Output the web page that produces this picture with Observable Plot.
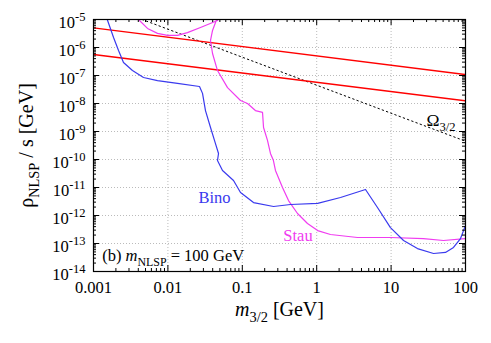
<!DOCTYPE html>
<html><head><meta charset="utf-8">
<script src="https://cdn.jsdelivr.net/npm/d3@7"></script>
<script src="https://cdn.jsdelivr.net/npm/@observablehq/plot@0.6"></script>
<style>
html,body{margin:0;padding:0;background:#fff;}
#chart svg, #chart svg text, #chart svg tspan { font-family: "Liberation Serif", "DejaVu Serif", serif; }
</style>
</head><body><div id="chart"></div>
<script>
// ---- tick values & labels ----
const xTicks = [0.001, 0.01, 0.1, 1, 10, 100];
const xTickLabels = ["0.001", "0.01", "0.1", "1", "10", "100"];
const yTicks = [1e-14, 1e-13, 1e-12, 1e-11, 1e-10, 1e-9, 1e-8, 1e-7, 1e-6, 1e-5];
const yTickLabels = ["10^{-14}", "10^{-13}", "10^{-12}", "10^{-11}", "10^{-10}", "10^{-9}", "10^{-8}", "10^{-7}", "10^{-6}", "10^{-5}"];

// ---- series ----
const binoX = [0.00148, 0.00153, 0.00186, 0.00217, 0.00253, 0.00334, 0.0047, 0.00724, 0.01345, 0.0266, 0.0292, 0.032, 0.0374, 0.0436, 0.0479, 0.0464, 0.0542, 0.0762, 0.0946, 0.1415, 0.263, 0.445, 1.03, 2.09, 4.53, 6.56, 9.8, 14.7, 22.6, 37.2, 53.8, 69, 85.7, 100];
const binoY = [1.3e-5, 1e-5, 2.28e-6, 7.8e-7, 2.9e-7, 1.5e-7, 8.5e-8, 6.6e-8, 5.2e-8, 4.05e-8, 2.3e-8, 5.6e-9, 1.39e-9, 3.7e-10, 1.64e-10, 9.2e-11, 4.05e-11, 1.78e-11, 6.6e-12, 2.9e-12, 2.1e-12, 2.47e-12, 2.7e-12, 4.4e-12, 8.5e-12, 1.93e-12, 3.7e-13, 1.28e-13, 6.6e-14, 4.4e-14, 4.8e-14, 7.2e-14, 1.5e-13, 4.4e-13];

const stauX = [0.0039, 0.00415, 0.00532, 0.00725, 0.00988, 0.01346, 0.0183, 0.0274, 0.0465, 0.048, 0.0455, 0.0398, 0.0374, 0.0398, 0.0464, 0.0633, 0.0946, 0.1175, 0.150, 0.187, 0.193, 0.218, 0.239, 0.262, 0.279, 0.347, 0.418, 0.552, 0.752, 1.03, 1.53, 3.53, 9.8, 27.2, 50.6, 100];
const stauY = [1.2e-5, 9.2e-6, 4.8e-6, 3.2e-6, 2.7e-6, 2.7e-6, 3.4e-6, 5.2e-6, 9.2e-6, 1.3e-5, 1.05e-5, 4.05e-6, 1.78e-6, 6.1e-7, 1.5e-7, 3.7e-8, 1.28e-8, 1e-8, 5.6e-9, 4.8e-9, 1.39e-9, 4.8e-10, 1.64e-10, 9.2e-11, 4.05e-11, 1e-11, 3.4e-12, 1.18e-12, 5.2e-13, 2.9e-13, 2.1e-13, 1.64e-13, 1.64e-13, 1.5e-13, 1.28e-13, 1.5e-13];

const redUpperX = [0.001, 100];
const redUpperY = [5e-6, 1.08e-7];
const redLowerX = [0.001, 100];
const redLowerY = [5.6e-7, 1.25e-8];
const omegaX = [0.0045, 100];
const omegaY = [1e-5, 4.5e-10];

// ---- annotations ----
const labels = [
  {x: 0.0423, y: 4.4e-12, text: "Bino", color: "#3a3aee", anchor: "middle", size: 16.5},
  {x: 0.561, y: 1.87e-13, text: "Stau", color: "#f03cf0", anchor: "middle", size: 16.5},
  {x: 29.9, y: 2.53e-9, text: "Ω_{3/2}", color: "black", anchor: "start", size: 17.5},
  {x: 0.00131, y: 3.6e-14, text: "(b) *{m}_{NLSP} = 100 GeV", color: "black", anchor: "start", size: 16.5}
];

const FONT = "Liberation Serif, DejaVu Serif, serif";
const pts = (xs, ys) => xs.map((x, i) => ({x, y: ys[i]}));
const minorOf = t => t.slice(0, -1).flatMap(d => [2,3,4,5,6,7,8,9].map(k => d * k));
const minorX = minorOf(xTicks), minorY = minorOf(yTicks);

const ML = 93, MR = 26, MT = 19, MB = 72, WIDTH = 491, HEIGHT = 343;
const W = WIDTH - ML - MR, H = HEIGHT - MT - MB;

const svg = Plot.plot({
  width: WIDTH, height: HEIGHT,
  marginLeft: ML, marginRight: MR, marginTop: MT, marginBottom: MB,
  style: {fontFamily: FONT, fontSize: "16.5px", background: "white", color: "black"},
  x: {type: "log", domain: [0.001, 100]},
  y: {type: "log", domain: [1e-14, 1e-5]},
  marks: [
    Plot.ruleX(xTicks.slice(1, -1), {x: d => d, stroke: "#aaa", strokeWidth: 0.8, strokeDasharray: "1,2"}),
    Plot.ruleY(yTicks.slice(1, -1), {y: d => d, stroke: "#aaa", strokeWidth: 0.8, strokeDasharray: "1,2"}),
    Plot.line(pts(omegaX, omegaY), {x: "x", y: "y", stroke: "black", strokeWidth: 1, strokeDasharray: "1.5,3", clip: true}),
    Plot.line(pts(redUpperX, redUpperY), {x: "x", y: "y", stroke: "#f00", strokeWidth: 1.4, clip: true}),
    Plot.line(pts(redLowerX, redLowerY), {x: "x", y: "y", stroke: "#f00", strokeWidth: 1.4, clip: true}),
    Plot.line(pts(stauX, stauY), {x: "x", y: "y", stroke: "#f03cf0", strokeWidth: 1.2, clip: true}),
    Plot.line(pts(binoX, binoY), {x: "x", y: "y", stroke: "#3a3aee", strokeWidth: 1.2, clip: true}),
    // ticks on all sides, pointing inward
    Plot.tickX(minorX, {x: d => d, insetTop: H - 3, stroke: "black"}),
    Plot.tickX(minorX, {x: d => d, insetBottom: H - 3, stroke: "black"}),
    Plot.tickX(xTicks, {x: d => d, insetTop: H - 6, stroke: "black"}),
    Plot.tickX(xTicks, {x: d => d, insetBottom: H - 6, stroke: "black"}),
    Plot.tickY(minorY, {y: d => d, insetRight: W - 3, stroke: "black"}),
    Plot.tickY(minorY, {y: d => d, insetLeft: W - 3, stroke: "black"}),
    Plot.tickY(yTicks, {y: d => d, insetRight: W - 6, stroke: "black"}),
    Plot.tickY(yTicks, {y: d => d, insetLeft: W - 6, stroke: "black"}),
    Plot.frame({stroke: "black", strokeWidth: 1.2}),
    Plot.axisX(xTicks, {tickSize: 0, tickPadding: 10, fontSize: 16.5, fontFamily: FONT, tickFormat: d => xTickLabels[xTicks.indexOf(d)], label: null}),
    Plot.axisY(yTicks, {tickSize: 0, tickPadding: 8, dy: 3, fontSize: 16.5, fontFamily: FONT, tickFormat: d => yTickLabels[yTicks.indexOf(d)], label: null}),
    ...labels.map(l => Plot.text([l], {x: "x", y: "y", text: "text", fill: l.color, textAnchor: l.anchor, lineAnchor: "middle", fontSize: l.size, fontFamily: FONT})),
    Plot.text(["ρ_{NLSP} / s [GeV]"], {frameAnchor: "left", rotate: -90, dx: -67, textAnchor: "middle", lineAnchor: "middle", fontSize: 20, fontFamily: FONT, text: d => d}),
    Plot.text(["*{m}_{3/2} [GeV]"], {frameAnchor: "bottom", dy: 38, textAnchor: "middle", lineAnchor: "middle", fontSize: 20, fontFamily: FONT, text: d => d})
  ]
});
document.getElementById("chart").append(svg);

// rich text: _{sub}, ^{sup}, *{italic}
function richText(root) {
  root.querySelectorAll("text").forEach(t => {
    const s = t.textContent;
    if (!/[_^*]\{/.test(s)) return;
    const fs = parseFloat(getComputedStyle(t).fontSize) || 16;
    while (t.firstChild) t.removeChild(t.firstChild);
    const re = /([_^*])\{([^}]*)\}|([^_^*]+)/g;
    let m, shift = 0;
    while ((m = re.exec(s))) {
      const ts = document.createElementNS("http://www.w3.org/2000/svg", "tspan");
      let target = 0;
      if (m[1] === "_") { target = 0.28 * fs; ts.setAttribute("font-size", (0.72 * fs) + "px"); }
      else if (m[1] === "^") { target = -0.42 * fs; ts.setAttribute("font-size", (0.76 * fs) + "px"); }
      else if (m[1] === "*") { ts.setAttribute("font-style", "italic"); }
      const dy = target - shift;
      if (dy !== 0) ts.setAttribute("dy", dy + "px");
      shift = target;
      ts.textContent = m[1] ? m[2] : m[3];
      t.appendChild(ts);
    }
  });
}
richText(svg);
</script>
</body></html>
